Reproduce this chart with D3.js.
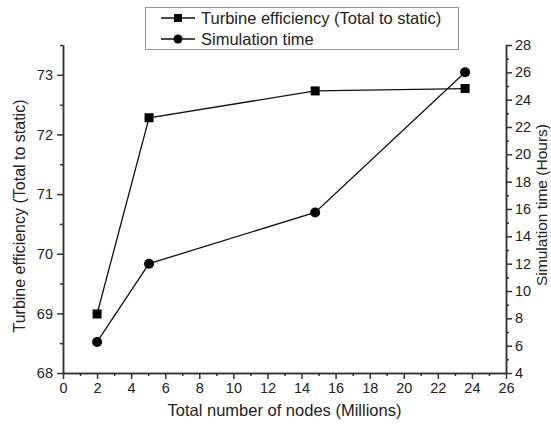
<!DOCTYPE html>
<html>
<head>
<meta charset="utf-8">
<script src="https://cdnjs.cloudflare.com/ajax/libs/d3/7.8.5/d3.min.js"></script>
<style>
  body { margin: 0; background: #fff; }
  text { font-family: Arial, "Liberation Sans", sans-serif; fill: #222; }
</style>
</head>
<body>
<div id="chart"></div>
<script>
// data
var nodes = [2.0, 5.05, 14.8, 23.6];               // total number of nodes (millions)
var efficiency = [68.99, 72.28, 72.73, 72.77];     // turbine efficiency (total to static)
var simTime = [6.27, 12.0, 15.75, 26.0];           // simulation time (hours)

var xTicks = d3.range(0, 27, 2);
var leftTicks = [68, 69, 70, 71, 72, 73];
var rightTicks = d3.range(4, 29, 2);

var legendLabels = ["Turbine efficiency (Total to static)", "Simulation time"];

var W = 551, H = 425;
var margin = {top: 45, right: 45, bottom: 52, left: 63};
var width = W - margin.left - margin.right,
    height = H - margin.top - margin.bottom;

var svg = d3.select("#chart").append("svg")
    .attr("width", W)
    .attr("height", H);

var g = svg.append("g")
    .attr("transform", "translate(" + margin.left + "," + margin.top + ")");

var x = d3.scaleLinear().domain([0, 26]).range([0, width]);
var yL = d3.scaleLinear().domain([68, 73.5]).range([height, 0]);
var yR = d3.scaleLinear().domain([4, 28]).range([height, 0]);

var axisColor = "#333";

function styleAxis(sel) {
  sel.select(".domain").attr("stroke", axisColor).attr("stroke-width", 1.5);
  sel.selectAll(".tick line").attr("stroke", axisColor).attr("stroke-width", 1.5);
  sel.selectAll(".tick text").style("font-size", "14.5px").attr("fill", "#333");
}

// minor ticks first
g.append("g")
    .attr("transform", "translate(0," + height + ")")
    .call(d3.axisBottom(x).tickValues(d3.range(1, 26, 2)).tickSize(3).tickFormat("").tickSizeOuter(0))
    .call(styleAxis);
g.append("g")
    .call(d3.axisLeft(yL).tickValues([68.5, 69.5, 70.5, 71.5, 72.5, 73.5]).tickSize(3).tickFormat("").tickSizeOuter(0))
    .call(styleAxis);
g.append("g")
    .attr("transform", "translate(" + width + ",0)")
    .call(d3.axisRight(yR).tickValues(d3.range(5, 28, 2)).tickSize(3).tickFormat("").tickSizeOuter(0))
    .call(styleAxis);

// major ticks
g.append("g")
    .attr("transform", "translate(0," + height + ")")
    .call(d3.axisBottom(x).tickValues(xTicks).tickSize(6).tickPadding(4).tickFormat(d3.format("d")).tickSizeOuter(0))
    .call(styleAxis);
g.append("g")
    .call(d3.axisLeft(yL).tickValues(leftTicks).tickSize(6).tickPadding(4).tickFormat(d3.format("d")).tickSizeOuter(0))
    .call(styleAxis);
g.append("g")
    .attr("transform", "translate(" + width + ",0)")
    .call(d3.axisRight(yR).tickValues(rightTicks).tickSize(6).tickPadding(3).tickFormat(d3.format("d")).tickSizeOuter(0))
    .call(styleAxis);

// axis titles
g.append("text")
    .attr("x", width / 2)
    .attr("y", height + 43)
    .attr("text-anchor", "middle")
    .style("font-size", "16.5px")
    .text("Total number of nodes (Millions)");

g.append("text")
    .attr("transform", "rotate(-90)")
    .attr("x", -(height / 2) - 7)
    .attr("y", -38)
    .attr("text-anchor", "middle")
    .style("font-size", "16px")
    .text("Turbine efficiency (Total to static)");

g.append("text")
    .attr("transform", "rotate(-90)")
    .attr("x", -(height / 2) + 4)
    .attr("y", width + 41)
    .attr("text-anchor", "middle")
    .style("font-size", "15.5px")
    .text("Simulation time (Hours)");

// lines
var effData = nodes.map(function(d, i) { return {x: d, y: efficiency[i]}; });
var timeData = nodes.map(function(d, i) { return {x: d, y: simTime[i]}; });

g.append("path")
    .datum(effData)
    .attr("fill", "none")
    .attr("stroke", "#111")
    .attr("stroke-width", 1.3)
    .attr("d", d3.line().x(function(d) { return x(d.x); }).y(function(d) { return yL(d.y); }));

g.append("path")
    .datum(timeData)
    .attr("fill", "none")
    .attr("stroke", "#111")
    .attr("stroke-width", 1.3)
    .attr("d", d3.line().x(function(d) { return x(d.x); }).y(function(d) { return yR(d.y); }));

g.selectAll(".sq")
    .data(effData)
    .enter().append("rect")
    .attr("x", function(d) { return x(d.x) - 4.5; })
    .attr("y", function(d) { return yL(d.y) - 4.5; })
    .attr("width", 9)
    .attr("height", 9)
    .attr("fill", "#000");

g.selectAll(".dot")
    .data(timeData)
    .enter().append("circle")
    .attr("cx", function(d) { return x(d.x); })
    .attr("cy", function(d) { return yR(d.y); })
    .attr("r", 5)
    .attr("fill", "#000");

// legend
var legend = svg.append("g");
legend.append("rect")
    .attr("x", 145.5)
    .attr("y", 7.5)
    .attr("width", 313)
    .attr("height", 42)
    .attr("fill", "#fff")
    .attr("stroke", "#999")
    .attr("stroke-width", 1);

legendLabels.forEach(function(label, i) {
  var cy = 18 + i * 21;
  legend.append("line")
      .attr("x1", 161).attr("x2", 195)
      .attr("y1", cy).attr("y2", cy)
      .attr("stroke", "#111").attr("stroke-width", 1.3);
  if (i === 0) {
    legend.append("rect")
        .attr("x", 174).attr("y", cy - 4).attr("width", 8).attr("height", 8)
        .attr("fill", "#000");
  } else {
    legend.append("circle")
        .attr("cx", 178).attr("cy", cy).attr("r", 4.5)
        .attr("fill", "#000");
  }
  legend.append("text")
      .attr("x", 201)
      .attr("y", cy + 5.5)
      .style("font-size", "16.5px")
      .text(label);
});
</script>
</body>
</html>
